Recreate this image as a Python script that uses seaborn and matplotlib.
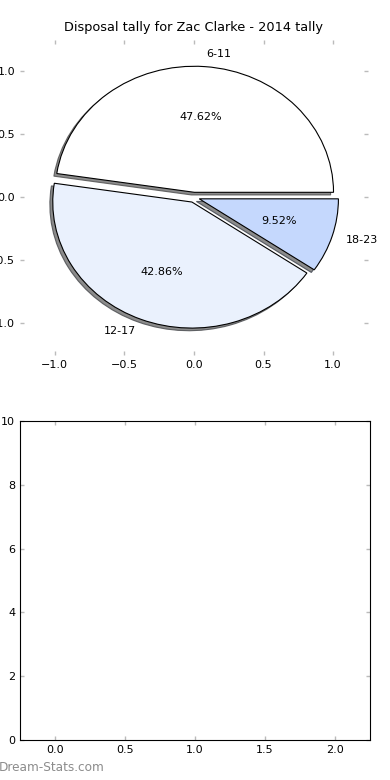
import matplotlib
matplotlib.use("Agg")
import matplotlib.pyplot as plt
import seaborn as sns

labels = ['6-11', '12-17', '18-23']
counts = [10, 9, 2]
explode = [0.04, 0.04, 0.04]
colors = ['#ffffff', '#eaf1fd', '#c5d8fd']
title = 'Disposal tally for Zac Clarke - 2014 tally'
pie_ticks = [-1.0, -0.5, 0.0, 0.5, 1.0]
bar_xticks = [0.0, 0.5, 1.0, 1.5, 2.0]
bar_yticks = [0, 2, 4, 6, 8, 10]

sns.set_style("white", rc={
    'xtick.direction': 'in', 'ytick.direction': 'in',
    'xtick.top': True, 'ytick.right': True,
    'xtick.bottom': True, 'ytick.left': True,
    'axes.edgecolor': 'black', 'axes.linewidth': 1.0,
    'text.color': 'black',
})
plt.rcParams['font.family'] = ['DejaVu Sans']
plt.rcParams['font.size'] = 8
plt.rcParams['xtick.major.size'] = 3
plt.rcParams['ytick.major.size'] = 3
plt.rcParams['xtick.major.width'] = 1
plt.rcParams['ytick.major.width'] = 1

fig = plt.figure(figsize=(3.9, 7.8), dpi=100)
ax1 = fig.add_axes([0.0513, 0.545, 0.892, 0.404])
ax2 = fig.add_axes([0.0513, 0.0513, 0.897, 0.409])

ax1.pie(counts, explode=explode, labels=labels, colors=colors,
        autopct='%1.2f%%', startangle=0,
        shadow={'ox': -0.015, 'oy': -0.015, 'facecolor': '#6e6e6e', 'alpha': 0.8},
        wedgeprops={'edgecolor': 'black', 'linewidth': 0.8},
        textprops={'fontsize': 8, 'color': 'black'})
ax1.set_aspect('auto')
ax1.set_frame_on(False)
ax1.set_xlim(-1.25, 1.25)
ax1.set_ylim(-1.25, 1.25)
ax1.set_xticks(pie_ticks)
ax1.set_yticks(pie_ticks)
ax1.set_title(title, fontsize=9.3)

ax2.set_xlim(-0.25, 2.25)
ax2.set_ylim(0, 10)
ax2.set_xticks(bar_xticks)
ax2.set_yticks(bar_yticks)
for s in ax2.spines.values():
    s.set_visible(True)
    s.set_color('black')

for ax in (ax1, ax2):
    ax.tick_params(which='both', color='#bbbbbb', labelcolor='black',
                   labelsize=8)

fig.text(-0.003, 0.012, 'Dream-Stats.com', color='#8c8c8c', fontsize=8.7)

fig.savefig('out.png', dpi=100)
